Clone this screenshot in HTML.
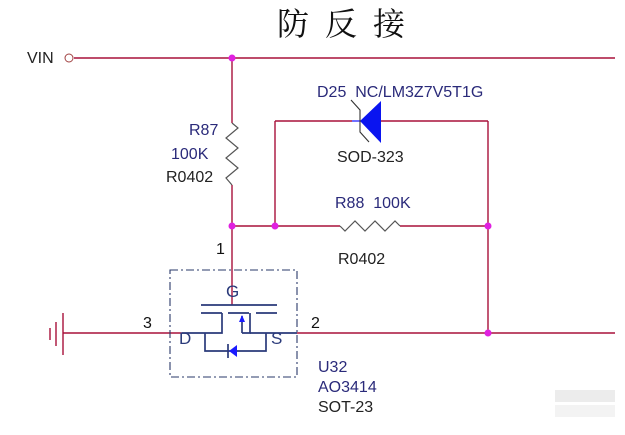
<!DOCTYPE html>
<html><head><meta charset="utf-8"><style>
html,body{margin:0;padding:0;background:#fff;width:625px;height:435px;overflow:hidden}
svg{display:block}
text{font-family:"Liberation Sans",sans-serif;white-space:pre}
</style></head><body>
<svg width="625" height="435" viewBox="0 0 625 435" xmlns="http://www.w3.org/2000/svg">
<rect width="625" height="435" fill="#fff"/>
<text x="277" y="35" font-size="32" letter-spacing="16" fill="#111" style="font-family:'Liberation Serif','Noto Serif CJK SC',serif">防反接</text>
<g stroke="#a8103a" stroke-width="1.4" fill="none">
<line x1="74" y1="58" x2="615" y2="58"/>
<line x1="232" y1="58" x2="232" y2="123"/>
<line x1="232" y1="185" x2="232" y2="305"/>
<line x1="232" y1="226" x2="340" y2="226"/>
<line x1="400" y1="226" x2="488" y2="226"/>
<line x1="275" y1="121" x2="275" y2="226"/>
<line x1="275" y1="121" x2="352" y2="121"/>
<line x1="381" y1="121" x2="488" y2="121"/>
<line x1="488" y1="121" x2="488" y2="333"/>
<line x1="63" y1="333" x2="182" y2="333"/>
<line x1="297" y1="333" x2="615" y2="333"/>
<line x1="63" y1="313" x2="63" y2="355"/>
<line x1="56" y1="322" x2="56" y2="346"/>
<line x1="50" y1="328" x2="50" y2="340"/>
</g>
<circle cx="69" cy="58" r="4" fill="#fff" stroke="#a04040" stroke-width="1"/>
<polyline points="232,123 238,128 226,138 238,148 226,158 238,168 226,178 232,185" fill="none" stroke="#555" stroke-width="1.2"/>
<polyline points="340,226 345,231 355,221 365,231 375,221 385,231 395,221 400,226" fill="none" stroke="#555" stroke-width="1.2"/>
<g fill="#e020e0">
<circle cx="232" cy="58" r="3.5"/><circle cx="232" cy="226" r="3.5"/><circle cx="275" cy="226" r="3.5"/>
<circle cx="488" cy="226" r="3.5"/><circle cx="488" cy="333" r="3.5"/>
</g>
<line x1="352" y1="121" x2="381" y2="121" stroke="#1a1aff" stroke-width="1.3"/>
<polygon points="360,121 381,101 381,143" fill="#0a14f0"/>
<polyline points="351,100 360,110 360,132 369,142" fill="none" stroke="#333" stroke-width="1.1"/>
<rect x="170" y="270" width="127" height="107" fill="none" stroke="#2a3a6a" stroke-width="1.1" stroke-dasharray="8,3,2,3"/>
<g stroke="#2a3a7a" stroke-width="1.7" fill="none">
<line x1="201" y1="305" x2="277" y2="305"/>
<line x1="201" y1="313" x2="222" y2="313"/><line x1="228" y1="313" x2="249" y2="313"/><line x1="256" y1="313" x2="277" y2="313"/>
<polyline points="182,333 222,333 222,313"/>
<line x1="242" y1="316" x2="242" y2="333"/>
<polyline points="242,333 250,333 250,313"/>
<line x1="250" y1="333" x2="297" y2="333"/>
<polyline points="205,333 205,351 266,351 266,333"/>
<line x1="228" y1="344" x2="228" y2="358"/>
</g>
<polygon points="242,315 239,322 245,322" fill="#1a1aff"/>
<polygon points="229,351 237,345 237,357" fill="#1a1aff"/>
<g font-size="16">
<text x="27" y="63" fill="#222">VIN</text>
<text x="189" y="135" fill="#2a2a7a">R87</text>
<text x="171" y="159" fill="#2a2a7a">100K</text>
<text x="166" y="182" fill="#222">R0402</text>
<text x="317" y="97" fill="#2a2a7a">D25  NC/LM3Z7V5T1G</text>
<text x="337" y="162" fill="#222">SOD-323</text>
<text x="335" y="208" fill="#2a2a7a">R88  100K</text>
<text x="338" y="264" fill="#222">R0402</text>
<text x="216" y="254" fill="#111">1</text>
<text x="143" y="328" fill="#111">3</text>
<text x="311" y="328" fill="#111">2</text>
<text x="318" y="372" fill="#2a2a7a">U32</text>
<text x="318" y="392" fill="#2a2a7a">AO3414</text>
<text x="318" y="412" fill="#222">SOT-23</text>
</g>
<g font-size="17" fill="#2a3a7a">
<text x="226" y="297">G</text>
<text x="179" y="344">D</text>
<text x="271" y="344">S</text>
</g>
<rect x="555" y="390" width="60" height="12" fill="#ececec"/>
<rect x="555" y="405" width="60" height="12" fill="#f3f3f3"/>
</svg>
</body></html>
